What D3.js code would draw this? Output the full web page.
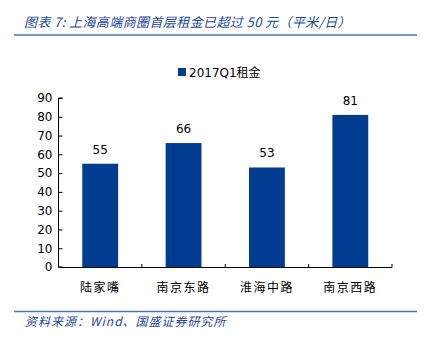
<!DOCTYPE html>
<html><head><meta charset="utf-8">
<script src="https://cdn.jsdelivr.net/npm/d3@7"></script>
<style>body{margin:0;background:#fff}svg{display:block}</style>
</head><body>
<script>
const categories = ["陆家嘴", "南京东路", "淮海中路", "南京西路"];
const rent2017Q1 = [55, 66, 53, 81];
const yTicks = [0, 10, 20, 30, 40, 50, 60, 70, 80, 90];
const seriesName = "2017Q1租金";
const titleText = "图表 7:  上海高端商圈首层租金已超过 50 元（平米/日）";
const sourceText = "资料来源：Wind、国盛证券研究所";

const W = 424, H = 340;
const svg = d3.select("body").append("svg").attr("width", W).attr("height", H);
const sans = "'DejaVu Sans', 'Noto Sans CJK SC', sans-serif";
const cjk = "'Noto Sans CJK SC', sans-serif";

// title
svg.append("text").attr("x", 24).attr("y", 27)
  .attr("font-family", cjk).attr("font-size", 13).attr("font-style", "italic")
  .attr("letter-spacing", 0.4)
  .attr("fill", "#24479a").text(titleText);
svg.append("line").attr("x1", 14).attr("x2", 417).attr("y1", 35).attr("y2", 35)
  .attr("stroke", "#4a77b9").attr("stroke-width", 1.5);

// footer
svg.append("line").attr("x1", 14).attr("x2", 417).attr("y1", 311.5).attr("y2", 311.5)
  .attr("stroke", "#4a77b9").attr("stroke-width", 1.5);
svg.append("text").attr("x", 25).attr("y", 326)
  .attr("font-family", cjk).attr("font-size", 12).attr("font-style", "italic")
  .attr("letter-spacing", 1)
  .attr("fill", "#24479a").text(sourceText);

const x = d3.scaleBand().domain(categories).range([58.5, 392]).paddingInner(0.57).paddingOuter(0.285);
const y = d3.scaleLinear().domain([0, 90]).range([267, 98]);

const g = svg.append("g");
// bars
g.selectAll("rect.bar").data(categories).join("rect")
  .attr("x", d => x(d)).attr("width", x.bandwidth())
  .attr("y", (d, i) => y(rent2017Q1[i])).attr("height", (d, i) => y(0) - y(rent2017Q1[i]))
  .attr("fill", "#003d91");

// value labels
g.selectAll("text.val").data(categories).join("text")
  .attr("x", d => x(d) + x.bandwidth() / 2)
  .attr("y", (d, i) => y(rent2017Q1[i]) - 10)
  .attr("text-anchor", "middle").attr("font-family", sans).attr("font-size", 12)
  .attr("fill", "#000").text((d, i) => rent2017Q1[i]);

// y axis
const yAxis = d3.axisRight(y).tickValues(yTicks).tickSize(4).tickFormat(d3.format("d"));
const ya = svg.append("g").attr("transform", "translate(58.5,0)").call(yAxis);
ya.select(".domain").attr("d", `M4,${y(90)}H0V${y(0)}H4`).attr("stroke", "#000");
ya.selectAll(".tick line").attr("stroke", "#000");
ya.selectAll(".tick text").attr("x", -6).attr("text-anchor", "end")
  .attr("font-family", sans).attr("font-size", 12).attr("fill", "#000");

// x axis
const step = x.step();
const boundaries = d3.range(categories.length + 1).map(i => 58.5 + i * step);
const xa = svg.append("g");
xa.append("line").attr("x1", 58.5).attr("x2", 392).attr("y1", 267.5).attr("y2", 267.5).attr("stroke", "#000");
xa.selectAll("line.t").data(boundaries.slice(1)).join("line")
  .attr("x1", d => d).attr("x2", d => d).attr("y1", 267.5).attr("y2", 264).attr("stroke", "#000");
xa.selectAll("text").data(categories).join("text")
  .attr("x", d => x(d) + x.bandwidth() / 2).attr("y", 292)
  .attr("text-anchor", "middle").attr("font-family", cjk).attr("font-size", 12)
  .attr("letter-spacing", 1.5).attr("fill", "#000").text(d => d);

// legend
svg.append("rect").attr("x", 178).attr("y", 68).attr("width", 8).attr("height", 8).attr("fill", "#003d91");
svg.append("text").attr("x", 189).attr("y", 77).attr("font-family", sans).attr("font-size", 12)
  .attr("fill", "#000").text(seriesName);
</script>
</body></html>
